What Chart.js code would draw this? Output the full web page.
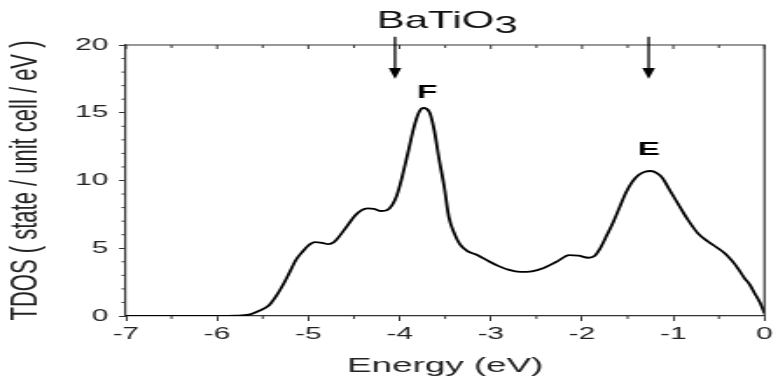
<!DOCTYPE html>
<html>
<head>
<meta charset="utf-8">
<title>BaTiO3 TDOS</title>
<script src="https://cdn.jsdelivr.net/npm/chart.js@4.4.1/dist/chart.umd.min.js"></script>
<style>
  html, body { margin: 0; padding: 0; background: #fff; overflow: hidden; }
  /* the figure is drawn narrow and then widened, like the original plot export */
  #wrap { width: 445px; height: 382px; transform: scaleX(1.74831); transform-origin: 0 0; }
</style>
</head>
<body>
<div id="wrap"><canvas id="dos" width="445" height="382"></canvas></div>
<script>
// total density of states, energy in eV
const energy = [-7, -6.5, -6, -5.8, -5.65, -5.55, -5.43, -5.35, -5.27, -5.2, -5.14, -5.07, -5.0, -4.93,
  -4.85, -4.78, -4.72, -4.67, -4.58, -4.49, -4.42, -4.35, -4.28, -4.2, -4.14, -4.08, -4.03, -3.99,
  -3.91, -3.84, -3.79, -3.74, -3.67, -3.62, -3.57, -3.51, -3.46, -3.4, -3.34, -3.26, -3.15, -3.04,
  -2.92, -2.8, -2.68, -2.55, -2.42, -2.28, -2.14, -2.04, -1.93, -1.86, -1.81, -1.74, -1.66, -1.59,
  -1.52, -1.45, -1.38, -1.31, -1.25, -1.18, -1.12, -1.04, -0.95, -0.84, -0.73, -0.62, -0.51, -0.43,
  -0.36, -0.29, -0.22, -0.16, -0.11, -0.05, 0];
const tdos = [0, 0, 0, 0.02, 0.1, 0.35, 0.8, 1.5, 2.4, 3.3, 4.1, 4.7, 5.2, 5.45,
  5.4, 5.3, 5.45, 5.8, 6.6, 7.4, 7.8, 7.95, 7.9, 7.75, 7.8, 8.2, 8.9, 9.8,
  12.0, 14.0, 15.0, 15.35, 15.0, 13.7, 11.7, 9.5, 7.3, 6.1, 5.3, 4.8, 4.5, 4.1,
  3.7, 3.4, 3.25, 3.3, 3.55, 4.0, 4.5, 4.45, 4.3, 4.45, 4.9, 5.8, 6.9, 8.0,
  9.1, 9.9, 10.4, 10.65, 10.7, 10.55, 10.2, 9.3, 8.3, 7.1, 6.1, 5.5, 5.0, 4.6,
  4.1, 3.5, 2.8, 2.3, 1.7, 1.0, 0.2];

// peak labels and the arrows above the plot
const peakNames = ['F', 'E'];
const peakX = [-3.70, -1.27];
const peakY = [16.5, 12.25];
const arrowX = [-4.05, -1.27];
const arrowFrom = 20.6;
const arrowTo = 17.5;

const points = energy.map((e, i) => ({ x: e, y: tdos[i] }));
const AXIS = '#333';

const extras = {
  id: 'extras',
  afterDraw(chart) {
    const { ctx, chartArea: a, scales: { x, y } } = chart;
    ctx.save();
    ctx.strokeStyle = AXIS;
    ctx.lineWidth = 1.2;
    // top and right frame
    ctx.beginPath();
    ctx.moveTo(a.left, a.top); ctx.lineTo(a.right, a.top); ctx.lineTo(a.right, a.bottom);
    ctx.stroke();
    // minor / top ticks
    ctx.lineWidth = 1;
    ctx.beginPath();
    for (let v = -7; v <= 0.001; v += 0.5) {
      const px = x.getPixelForValue(v);
      const major = Math.abs(v - Math.round(v)) < 0.01;
      ctx.moveTo(px, a.top); ctx.lineTo(px, a.top + (major ? 4 : 3));
      if (!major) { ctx.moveTo(px, a.bottom); ctx.lineTo(px, a.bottom + 3); }
    }
    for (let v = 1; v < 20; v++) {
      if (v % 5 === 0) continue;
      const py = y.getPixelForValue(v);
      ctx.moveTo(a.left, py); ctx.lineTo(a.left - 2.5, py);
    }
    ctx.stroke();

    // arrows
    ctx.fillStyle = '#000';
    ctx.strokeStyle = '#000';
    arrowX.forEach(v => {
      const px = x.getPixelForValue(v);
      const y0 = y.getPixelForValue(arrowFrom);
      const y1 = y.getPixelForValue(arrowTo);
      ctx.lineWidth = 1.3;
      ctx.beginPath(); ctx.moveTo(px, y0); ctx.lineTo(px, y1 - 8); ctx.stroke();
      ctx.beginPath();
      ctx.moveTo(px - 3.6, y1 - 11); ctx.lineTo(px + 3.6, y1 - 11); ctx.lineTo(px, y1);
      ctx.closePath(); ctx.fill();
    });

    // peak letters
    ctx.font = 'bold 19px "Liberation Sans", Arial, sans-serif';
    ctx.textAlign = 'center';
    ctx.textBaseline = 'middle';
    peakNames.forEach((n, i) => {
      ctx.fillText(n, x.getPixelForValue(peakX[i]), y.getPixelForValue(peakY[i]));
    });

    // compound name with subscript
    ctx.font = '24px "Liberation Sans", Arial, sans-serif';
    ctx.textAlign = 'left';
    ctx.textBaseline = 'alphabetic';
    ctx.fillStyle = '#111';
    const tx = 215.5, ty = 28;
    ctx.fillText('BaTiO', tx, ty);
    ctx.fillText('3', tx + ctx.measureText('BaTiO').width, ty + 5);
    ctx.restore();
  }
};

new Chart(document.getElementById('dos'), {
  type: 'line',
  data: {
    datasets: [{
      data: points,
      borderColor: '#000',
      borderWidth: 1.8,
      pointRadius: 0,
      fill: false,
      cubicInterpolationMode: 'monotone'
    }]
  },
  options: {
    responsive: false,
    animation: false,
    layout: { padding: { left: 0, top: 45, right: 4.58, bottom: 0 } },
    plugins: { legend: { display: false }, title: { display: false }, tooltip: { enabled: false } },
    scales: {
      x: {
        type: 'linear', min: -7, max: 0,
        ticks: { stepSize: 1, color: '#222', padding: 3, font: { size: 17, family: '"Liberation Sans", Arial' } },
        grid: { drawOnChartArea: false, tickLength: 5, tickColor: AXIS },
        border: { color: AXIS, width: 1.2 },
        title: { display: true, text: 'Energy (eV)', color: '#222', padding: { top: 0, bottom: 3 },
          font: { size: 21, family: '"Liberation Sans", Arial' } },
        afterFit(s) { s.height = 66; }
      },
      y: {
        min: 0, max: 20,
        ticks: { stepSize: 5, color: '#222', padding: 6, font: { size: 17, family: '"Liberation Sans", Arial' } },
        grid: { drawOnChartArea: false, tickLength: 4, tickColor: AXIS },
        border: { color: AXIS, width: 1.2 },
        title: { display: true, text: 'TDOS ( state / unit cell / eV )', color: '#222', padding: { top: 2, bottom: 0 },
          font: { size: 22, family: '"Liberation Sans", Arial' } },
        afterFit(s) { s.width = 72; }
      }
    }
  },
  plugins: [extras]
});
</script>
</body>
</html>
